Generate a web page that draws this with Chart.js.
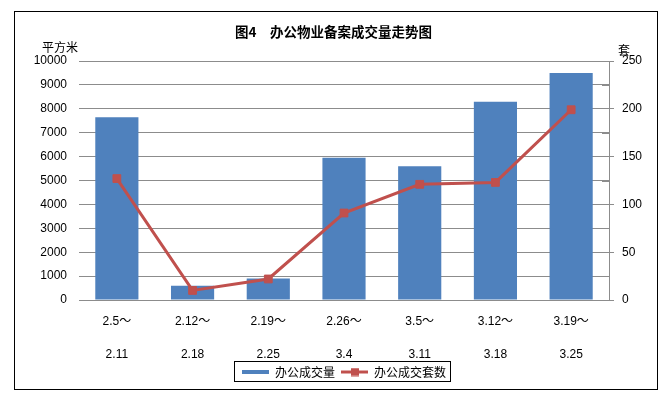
<!DOCTYPE html>
<html>
<head>
<meta charset="utf-8">
<script src="https://cdn.jsdelivr.net/npm/chart.js@4/dist/chart.umd.min.js"></script>
<style>
html,body{margin:0;padding:0;background:#fff;}
#wrap{width:667px;height:395px;}
</style>
</head>
<body>
<div id="wrap"><canvas id="c" width="667" height="395"></canvas></div>
<script>
const categories = [["2.5～","2.11"],["2.12～","2.18"],["2.19～","2.25"],["2.26～","3.4"],["3.5～","3.11"],["3.12～","3.18"],["3.19～","3.25"]];
const areaValues = [7650, 600, 900, 5950, 5600, 8300, 9500];
const unitValues = [127, 10, 22, 91, 121, 123, 199];
const leftTicks = [0, 10000, 1000];
const rightTicks = [0, 250, 50];
const titleText = "图4　办公物业备案成交量走势图";
const leftUnit = "平方米";
const rightUnit = "套";
const seriesNames = ["办公成交量", "办公成交套数"];

const BLUE = "#4F81BD";
const RED = "#C0504D";
const GRID = "#8C8C8C";
const TXT = "#000000";
const FONT = "'Liberation Sans', 'Noto Sans CJK SC', sans-serif";
const CJK = "'Noto Sans CJK SC', sans-serif";

function swatchBar(){
  const c = document.createElement('canvas'); c.width = 27; c.height = 6;
  const x = c.getContext('2d'); x.fillStyle = BLUE; x.fillRect(0,1,27,4); return c;
}
function swatchLine(){
  const c = document.createElement('canvas'); c.width = 27; c.height = 9;
  const x = c.getContext('2d'); x.strokeStyle = RED; x.lineWidth = 3;
  x.beginPath(); x.moveTo(0,4.5); x.lineTo(27,4.5); x.stroke();
  x.fillStyle = RED; x.fillRect(10,0.5,8,8); return c;
}

const decor = {
  id: 'decor',
  afterDraw(chart){
    const ctx = chart.ctx;
    ctx.save();
    ctx.strokeStyle = '#000'; ctx.lineWidth = 1;
    ctx.strokeRect(14.5, 11.5, 643, 378);
    ctx.fillStyle = TXT; ctx.font = "12px " + CJK;
    ctx.textAlign = 'center'; ctx.textBaseline = 'middle';
    ctx.fillText(leftUnit, 60, 47);
    ctx.fillText(rightUnit, 624, 50);
    const y1 = chart.scales.y1;
    ctx.strokeStyle = GRID; ctx.beginPath();
    for (let v = rightTicks[0] + rightTicks[2]/2; v < rightTicks[1]; v += rightTicks[2]) {
      const py = Math.round(y1.getPixelForValue(v)) + 0.5;
      ctx.moveTo(y1.left - 7, py); ctx.lineTo(y1.left, py);
    }
    ctx.stroke();
    const lg = chart.legend;
    if (lg && lg.legendHitBoxes && lg.legendHitBoxes.length) {
      let l = Infinity, r = -Infinity, t = Infinity, b = -Infinity;
      lg.legendHitBoxes.forEach(h => { l = Math.min(l, h.left); r = Math.max(r, h.left + h.width); t = Math.min(t, h.top); b = Math.max(b, h.top + h.height); });
      ctx.strokeStyle = '#000';
      ctx.strokeRect(Math.round(l) - 7.5, Math.round(t) - 4.5, Math.round(r - l) + 12, Math.round(b - t) + 8);
    }
    ctx.restore();
  }
};

const sw = [swatchBar(), swatchLine()];

new Chart(document.getElementById('c'), {
  data: {
    labels: categories,
    datasets: [
      { type: 'bar', label: seriesNames[0], data: areaValues, backgroundColor: BLUE, borderWidth: 0,
        yAxisID: 'y', order: 2, barPercentage: 0.57, categoryPercentage: 1.0 },
      { type: 'line', label: seriesNames[1], data: unitValues, borderColor: RED, backgroundColor: RED,
        borderWidth: 3, pointStyle: 'rect', pointRadius: 5.5, pointBorderWidth: 1, pointBackgroundColor: RED,
        pointBorderColor: RED, yAxisID: 'y1', order: 1, tension: 0 }
    ]
  },
  options: {
    responsive: false,
    animation: false,
    layout: { padding: { top: 0, bottom: 7, left: 0, right: 0 } },
    scales: {
      x: {
        grid: { display: false, drawTicks: false },
        border: { display: true, color: GRID },
        ticks: { color: TXT, font: { family: FONT, size: 12, lineHeight: 2.75 }, padding: 5, maxRotation: 0, autoSkip: false },
        afterFit(s){ s.height = 60; }
      },
      y: {
        position: 'left', min: leftTicks[0], max: leftTicks[1],
        ticks: { stepSize: leftTicks[2], color: TXT, font: { family: FONT, size: 12 }, padding: 12, callback: v => String(v) },
        grid: { color: GRID, drawTicks: false },
        border: { display: false },
        afterFit(s){ s.width = 79; }
      },
      y1: {
        position: 'right', min: rightTicks[0], max: rightTicks[1],
        ticks: { stepSize: rightTicks[2], color: TXT, font: { family: FONT, size: 12 }, padding: 8, callback: v => String(v) },
        grid: { drawOnChartArea: false, color: GRID, tickLength: 5 },
        border: { display: true, color: GRID },
        afterFit(s){ s.width = 58; }
      }
    },
    plugins: {
      title: { display: true, text: titleText, color: TXT, font: { family: CJK, size: 13.5, weight: 'bold', lineHeight: 1.2 }, padding: { top: 24, bottom: 20.8 } },
      legend: {
        position: 'bottom', fullSize: false,
        labels: {
          color: TXT, font: { family: CJK, size: 12 }, usePointStyle: true, pointStyleWidth: 27, boxHeight: 9, padding: 6,
          generateLabels(chart){
            const items = Chart.defaults.plugins.legend.labels.generateLabels(chart);
            items.sort((a,b) => a.datasetIndex - b.datasetIndex);
            items.forEach(it => { it.pointStyle = sw[it.datasetIndex]; });
            return items;
          }
        }
      },
      tooltip: { enabled: false }
    }
  },
  plugins: [decor]
});
</script>
</body>
</html>
